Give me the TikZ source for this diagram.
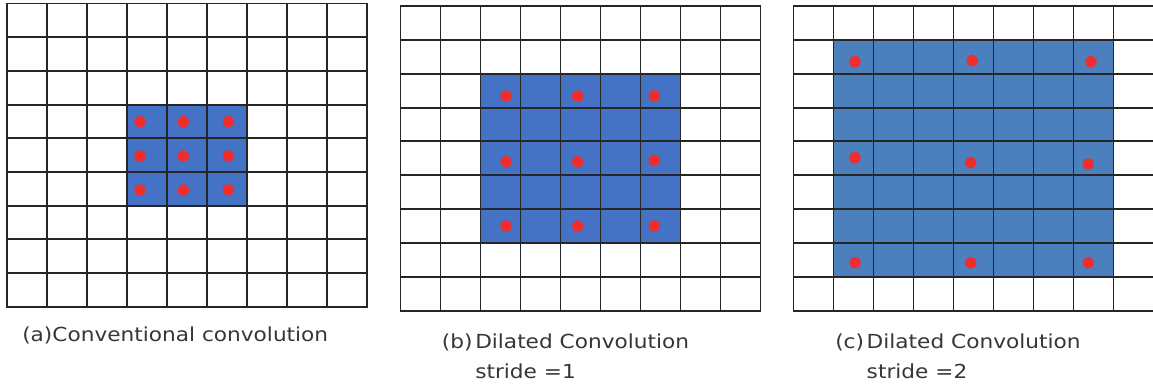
\documentclass[tikz,border=0pt]{standalone}
\usepackage{fontspec}
\newfontfamily\capfont[FakeStretch=1.12]{DejaVu Sans}
\usepackage{xcolor}
\definecolor{kernelblue}{HTML}{4472C4}
\definecolor{kernelblueC}{HTML}{4B7FBE}
\definecolor{tapred}{HTML}{EE2D2F}
\definecolor{captext}{HTML}{363636}

\begin{document}
\begin{tikzpicture}[
    x=0.75pt, y=-0.75pt,
    gridline/.style={draw=black!85, line width=1.45pt, line cap=rect},
    kernel/.style={fill=kernelblue},
    tap/.style={fill=tapred},
    caption/.style={anchor=base west, inner sep=0pt, text=captext, font=\capfont\fontsize{14.5}{23}\selectfont}
]
\useasboundingbox (0,0) rectangle (1153,385);
\clip (0,0) rectangle (1153,385);

% (a) conventional 3x3 kernel
\begin{scope}[shift={(7,3.5)}, x=30pt, y=-25.275pt]
\fill[kernel] (3,3) rectangle (6,6);
\foreach \i in {0,...,9} {
    \draw[gridline] (\i,0) -- (\i,9);
    \draw[gridline] (0,\i) -- (9,\i);
}
\end{scope}
\foreach \px in {140,183.3,228.3}
    \foreach \py in {121.7,156,190}
        \fill[tap] (\px,\py) circle[radius=4.3pt];

% (b) dilated, stride 1
\begin{scope}[shift={(400.5,6)}, x=30pt, y=-25.39pt]
\fill[kernel] (2,2) rectangle (7,7);
\foreach \i in {0,...,9} {
    \draw[gridline] (\i,0) -- (\i,9);
    \draw[gridline] (0,\i) -- (9,\i);
}
\end{scope}
\foreach \px/\py in {506/96, 577.7/96, 654.3/96,
                     506/161.7, 577.7/161.7, 654.3/160.3,
                     506/226, 577.7/226, 654.3/226}
    \fill[tap] (\px,\py) circle[radius=4.3pt];

% (c) dilated, stride 2
\begin{scope}[shift={(793.5,6)}, x=30pt, y=-25.39pt]
\fill[kernel, fill=kernelblueC] (1,1) rectangle (8,8);
\foreach \i in {0,...,9} {
    \draw[gridline] (\i,0) -- (\i,9);
    \draw[gridline] (0,\i) -- (9,\i);
}
\end{scope}
\foreach \px/\py in {855/61.7, 972.3/60.7, 1091/61.7,
                     855/157.7, 970.7/162.7, 1088.3/164,
                     855/262.7, 970.7/262.7, 1088.3/262.7}
    \fill[tap] (\px,\py) circle[radius=4.3pt];

% captions
\node[caption] (capA) at (22,341.5) {(a)Conventional convolution};
\node[caption] (capB) at (441.7,348) {(b)\hspace{2pt}\begin{tabular}[t]{@{}l@{}}Dilated Convolution\\stride =1\end{tabular}};
\node[caption] (capC) at (835,348) {(c)\hspace{2pt}\begin{tabular}[t]{@{}l@{}}Dilated Convolution\\stride =2\end{tabular}};
\end{tikzpicture}
\end{document}
